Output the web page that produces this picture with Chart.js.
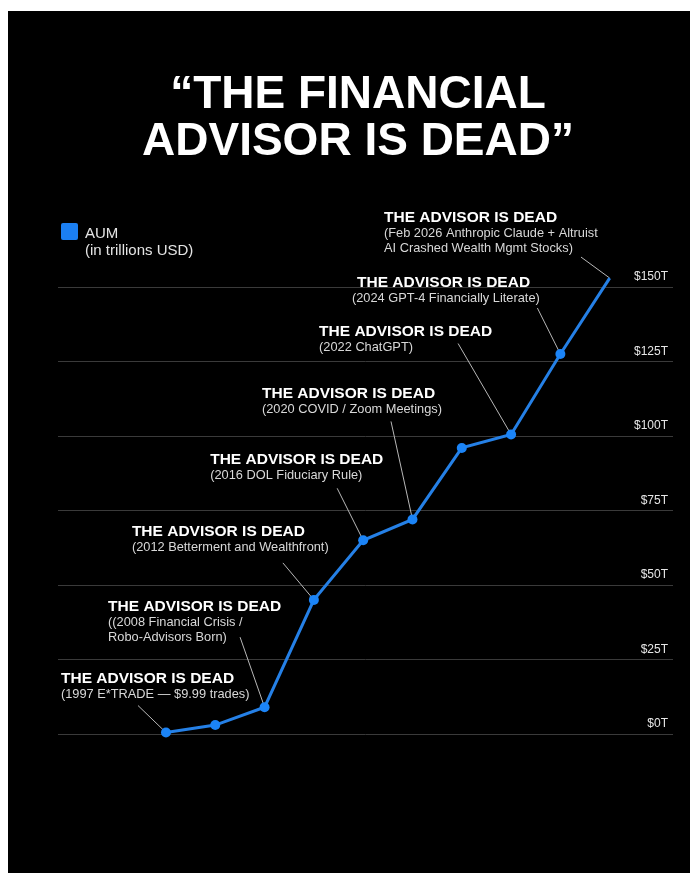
<!DOCTYPE html>
<html>
<head>
<meta charset="utf-8">
<title>The Financial Advisor Is Dead</title>
<script src="https://cdn.jsdelivr.net/npm/chart.js@4.4.1/dist/chart.umd.min.js"></script>
<style>
  html, body { margin: 0; padding: 0; background: #fff; }
  #poster { position: absolute; left: 8px; top: 11px; width: 682px; height: 862px; background: #000; }
  canvas { display: block; }
</style>
</head>
<body>
<div id="poster"><canvas id="aum" width="682" height="862"></canvas></div>
<script>
// ---- data ----
const years = ['1997', '2003', '2008', '2012', '2016', '2020', '2021', '2022', '2024', '2026'];
const aumTrillions = [0.5, 3, 9, 45, 65, 72, 96, 100.5, 127.5, 153];
const yTickValues = [0, 25, 50, 75, 100, 125, 150];
const seriesName = 'AUM';
const seriesUnit = '(in trillions USD)';
const headline = ['\u201CTHE FINANCIAL', 'ADVISOR IS DEAD\u201D'];
const calloutHeadline = 'THE ADVISOR IS DEAD';
const calloutYears = ['1997', '2008', '2012', '2016', '2020', '2022', '2024', '2026'];
const calloutNotes = [
  ['(1997 E*TRADE \u2014 $9.99 trades)'],
  ['((2008 Financial Crisis /', 'Robo-Advisors Born)'],
  ['(2012 Betterment and Wealthfront)'],
  ['(2016 DOL Fiduciary Rule)'],
  ['(2020 COVID / Zoom Meetings)'],
  ['(2022 ChatGPT)'],
  ['(2024 GPT-4 Financially Literate)'],
  ['(Feb 2026 Anthropic Claude + Altruist', 'AI Crashed Wealth Mgmt Stocks)']
];

// ---- callout placement, relative to the point each one points at ----
// tx/ty: headline left edge and baseline; nx: extra shift of the note lines;
// lx/ly: where the leader line starts
const calloutLayout = [
  { tx: -105,   ty: -50,  nx: 0,  lx: -28,   ly: -27 },
  { tx: -156.5, ty: -96,  nx: 0,  lx: -24.5, ly: -70 },
  { tx: -182,   ty: -64,  nx: 0,  lx: -31,   ly: -37 },
  { tx: -153,   ty: -76,  nx: 0,  lx: -26,   ly: -52 },
  { tx: -150.5, ty: -121, nx: 0,  lx: -21.5, ly: -98 },
  { tx: -192,   ty: -99,  nx: 0,  lx: -53,   ly: -91 },
  { tx: -203.4, ty: -67,  nx: -5, lx: -23,   ly: -46 },
  { tx: -225.7, ty: -56,  nx: 0,  lx: -28.7, ly: -21 }
];

const FONT = '"Liberation Sans", Arial, Helvetica, sans-serif';
const LINE_BLUE = '#2580e6';
const POINT_BLUE = '#1b84f7';

const posterPlugin = {
  id: 'posterText',
  beforeDatasetsDraw(chart) {
    const ctx = chart.ctx;
    const meta = chart.getDatasetMeta(0);
    ctx.save();
    ctx.strokeStyle = '#b8b8b8';
    ctx.lineWidth = 1;
    calloutYears.forEach((yr, i) => {
      const pt = meta.data[years.indexOf(yr)];
      const lay = calloutLayout[i];
      ctx.beginPath();
      ctx.moveTo(pt.x + lay.lx, pt.y + lay.ly);
      ctx.lineTo(pt.x, pt.y);
      ctx.stroke();
    });
    ctx.restore();
  },
  afterDraw(chart) {
    const ctx = chart.ctx;
    const meta = chart.getDatasetMeta(0);
    ctx.save();
    ctx.textBaseline = 'alphabetic';

    // headline
    ctx.fillStyle = '#ffffff';
    ctx.textAlign = 'center';
    ctx.font = 'bold 46px ' + FONT;
    ctx.fillText(headline[0], 350, 97);
    ctx.fillText(headline[1], 350, 144);

    // legend
    ctx.fillStyle = '#1b7ff2';
    ctx.beginPath();
    ctx.roundRect(53, 212, 17, 17, 2);
    ctx.fill();
    ctx.textAlign = 'left';
    ctx.fillStyle = '#e4e4e4';
    ctx.font = '15px ' + FONT;
    ctx.fillText(seriesName, 77, 227);
    ctx.fillText(seriesUnit, 77, 244);

    // callouts
    calloutYears.forEach((yr, i) => {
      const pt = meta.data[years.indexOf(yr)];
      const lay = calloutLayout[i];
      const x = pt.x + lay.tx;
      const y = pt.y + lay.ty;
      ctx.fillStyle = '#ffffff';
      ctx.font = 'bold 15.5px ' + FONT;
      ctx.fillText(calloutHeadline, x, y);
      ctx.fillStyle = '#d8d8d8';
      ctx.font = '12.8px ' + FONT;
      calloutNotes[i].forEach((line, k) => {
        ctx.fillText(line, x + lay.nx, y + 15 + k * 15);
      });
    });
    ctx.restore();
  }
};

new Chart(document.getElementById('aum'), {
  type: 'line',
  data: {
    labels: years,
    datasets: [{
      label: seriesName,
      data: aumTrillions.map((v, i) => ({ x: i, y: v })),
      borderColor: LINE_BLUE,
      borderWidth: 3,
      backgroundColor: POINT_BLUE,
      pointBackgroundColor: POINT_BLUE,
      pointBorderColor: POINT_BLUE,
      pointBorderWidth: 0,
      pointRadius: 5,
      tension: 0,
      clip: false
    }]
  },
  options: {
    responsive: false,
    animation: false,
    layout: { padding: { left: 50, top: 276, right: 17, bottom: 139 } },
    plugins: {
      legend: { display: false },
      title: { display: false },
      tooltip: { enabled: false }
    },
    scales: {
      x: { type: 'linear', min: -2.19, max: 10.284, display: false },
      y: {
        position: 'right',
        min: yTickValues[0],
        max: yTickValues[yTickValues.length - 1],
        afterBuildTicks: (scale) => { scale.ticks = yTickValues.map(v => ({ value: v })); },
        ticks: {
          mirror: true,
          padding: -5,
          labelOffset: -10,
          color: '#e6e6e6',
          font: { family: FONT, size: 12 },
          callback: (v) => '$' + v + 'T'
        },
        grid: { color: '#3a3a3a', lineWidth: 1, drawTicks: false },
        border: { display: false }
      }
    }
  },
  plugins: [posterPlugin]
});
</script>
</body>
</html>
